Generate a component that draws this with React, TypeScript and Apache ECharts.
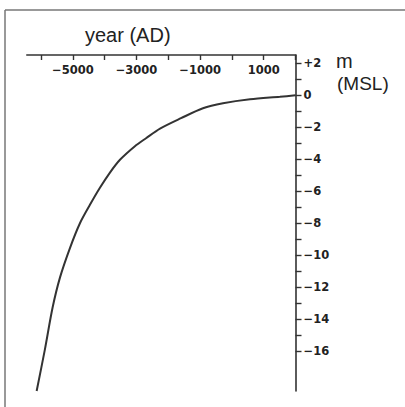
import React, { useEffect, useRef } from "react";
import * as echarts from "echarts";

// Data
const years = [-6140, -5880, -5640, -5405, -5090, -4775, -4460, -4150, -3835, -3520, -3050, -2700, -2260, -1600, -910, -280, 570, 1510, 2000];
const levels = [-18.5, -15.9, -13.3, -11.4, -9.55, -8.0, -6.85, -5.8, -4.85, -4.05, -3.2, -2.7, -2.1, -1.45, -0.83, -0.52, -0.27, -0.11, -0.02];

const xRange = [-6450, 2000];
const yRange = [-18.5, 2.5];
const xTickMin = -6000;
const xTickMax = 2000;
const xTickStep = 1000;
const yTickMin = -16;
const yTickMax = 2;
const yTickStep = 1;
const xTickLabels = [-5000, -3000, -1000, 1000];
const yTickLabels = [2, 0, -2, -4, -6, -8, -10, -12, -14, -16];

const xTitle = "year (AD)";
const yTitle1 = "m";
const yTitle2 = "(MSL)";

const FONT = "'Liberation Sans', Arial, Helvetica, sans-serif";
const TICKFONT = "'DejaVu Sans', 'Liberation Sans', Arial, sans-serif";
const INK = "#333";

function fmtNum(v: number): string {
  if (v > 0) return String(v);
  if (v < 0) return "\u2212" + Math.abs(v);
  return "0";
}

export default function App() {
  const ref = useRef<HTMLDivElement>(null);
  useEffect(() => {
    if (!ref.current) return;
    const chart = echarts.init(ref.current, undefined, { renderer: "svg" });
    const data = years.map((y, i) => [y, levels[i]]);
    // pixel layout
    const rightEdge = 295.5;
    const pxPer1000 = 31.8;
    const xLeftA = rightEdge - ((xRange[1] - xRange[0]) / 1000) * pxPer1000;
    const xLeftB = rightEdge - ((xTickMax - xTickMin) / 1000) * pxPer1000;
    const y0 = 95;
    const pxPerM = 16;
    const topA = y0 - yRange[1] * pxPerM;
    const botA = y0 - yRange[0] * pxPerM;
    const topB = y0 - yTickMax * pxPerM;
    const botB = y0 - yTickMin * pxPerM;
    const H = 407;
    const W = 405;

    const tickLabelStyle = {
      color: "#222",
      fontFamily: TICKFONT,
      fontWeight: "bold" as const,
      fontSize: 11.5,
    };

    chart.setOption({
      animation: false,
      backgroundColor: "#fff",
      grid: [
        { left: xLeftA, right: W - rightEdge, top: topA, bottom: H - botA, containLabel: false },
        { left: xLeftB, right: W - rightEdge, top: topB, bottom: H - botB, containLabel: false },
      ],
      xAxis: [
        {
          type: "value",
          gridIndex: 0,
          position: "top",
          min: xRange[0],
          max: xRange[1],
          axisLine: { show: true, onZero: false, lineStyle: { color: INK, width: 1.6 } },
          axisTick: { show: false },
          axisLabel: { show: false },
          splitLine: { show: false },
        },
        {
          type: "value",
          gridIndex: 1,
          position: "top",
          min: xTickMin,
          max: xTickMax,
          interval: xTickStep,
          offset: topB - topA,
          axisLine: { show: false, onZero: false },
          axisTick: { show: true, inside: true, length: 5, lineStyle: { color: INK, width: 1.4 } },
          axisLabel: {
            show: true,
            inside: true,
            margin: 9,
            ...tickLabelStyle,
            formatter: (v: number) => (xTickLabels.includes(v) ? fmtNum(v) : ""),
          },
          splitLine: { show: false },
        },
      ],
      yAxis: [
        {
          type: "value",
          gridIndex: 0,
          position: "right",
          min: yRange[0],
          max: yRange[1],
          axisLine: { show: true, onZero: false, lineStyle: { color: INK, width: 1.6 } },
          axisTick: { show: false },
          axisLabel: { show: false },
          splitLine: { show: false },
        },
        {
          type: "value",
          gridIndex: 1,
          position: "right",
          min: yTickMin,
          max: yTickMax,
          interval: yTickStep,
          axisLine: { show: false, onZero: false },
          axisTick: { show: true, length: 6, lineStyle: { color: INK, width: 1.4 } },
          axisLabel: {
            show: true,
            margin: 8,
            ...tickLabelStyle,
            formatter: (v: number) =>
              yTickLabels.includes(v) ? (v > 0 ? "+" + v : fmtNum(v)) : "",
          },
          splitLine: { show: false },
        },
      ],
      series: [
        {
          type: "line",
          xAxisIndex: 0,
          yAxisIndex: 0,
          data,
          showSymbol: false,
          smooth: 0.3,
          lineStyle: { color: INK, width: 2 },
        },
      ],
      graphic: [
        { type: "line", shape: { x1: 5, y1: 10, x2: 405, y2: 10 }, style: { stroke: "#777", lineWidth: 1.5 } },
        { type: "line", shape: { x1: 5, y1: 10, x2: 5, y2: 407 }, style: { stroke: "#777", lineWidth: 1.5 } },
        {
          type: "text",
          x: 85,
          y: 35,
          style: { text: xTitle, font: `20px ${FONT}`, fill: "#222", verticalAlign: "middle", align: "left" },
        },
        {
          type: "text",
          x: 336,
          y: 60.5,
          style: { text: yTitle1, font: `20px ${FONT}`, fill: "#222", verticalAlign: "middle", align: "left" },
        },
        {
          type: "text",
          x: 337,
          y: 83,
          style: { text: yTitle2, font: `19px ${FONT}`, fill: "#222", verticalAlign: "middle", align: "left" },
        },
      ],
    });
    return () => chart.dispose();
  }, []);
  return (
    <div
      ref={ref}
      style={{ position: "fixed", left: 0, top: 0, width: 405, height: 407, background: "#fff" }}
    />
  );
}
